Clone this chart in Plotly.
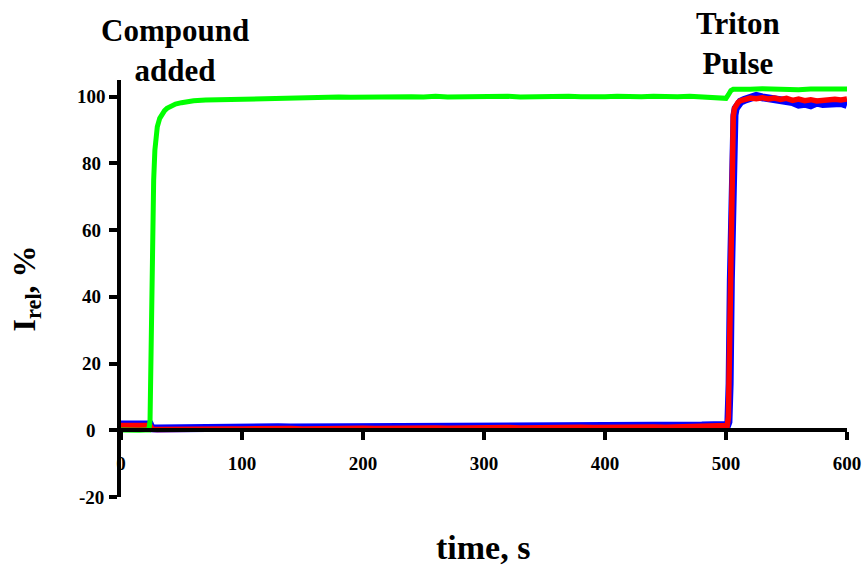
import plotly.graph_objects as go

# Time base (s) and relative intensity (%) for the two leakage traces
red_time = [0, 5, 10, 15, 20, 24, 25, 26, 30,
            40, 50, 60, 70, 80, 90, 100, 110, 120, 130, 140, 150, 160, 170, 180, 190,
            200, 210, 220, 230, 240, 250, 260, 270, 280, 290, 300, 310, 320, 330, 340,
            350, 360, 370, 380, 390, 400, 410, 420, 430, 440, 450, 460, 470, 480, 490,
            495, 500, 501, 502, 503, 504, 505, 506, 507, 508, 510, 512, 515, 518, 520,
            525, 530, 535, 540, 545, 550, 555, 560, 565, 570, 575, 580, 585, 590, 595, 600]

red_values = [1.4, 1.5, 1.4, 1.5, 1.4, 1.4, 0.6, 0.3, 0.2,
              0.3, 0.2, 0.3, 0.4, 0.3, 0.4, 0.4, 0.5, 0.4, 0.5, 0.5, 0.4, 0.5, 0.6, 0.5, 0.6,
              0.6, 0.5, 0.6, 0.7, 0.6, 0.7, 0.7, 0.6, 0.7, 0.8, 0.7, 0.8, 0.8, 0.7, 0.8,
              0.9, 0.8, 0.9, 0.9, 0.8, 0.9, 1.0, 0.9, 1.0, 1.0, 0.9, 1.0, 1.1, 1.0, 1.1,
              1.0, 1.1, 1.4, 4.0, 28.0, 62.0, 86.0, 94.0, 96.5, 97.5, 98.3, 98.8, 99.2, 99.5, 99.6,
              99.4, 99.7, 99.3, 99.6, 99.2, 99.5, 98.9, 99.3, 98.8, 99.1, 98.7, 99.0, 98.9, 99.2, 99.0, 99.3]

blue_values = [1.7, 1.8, 1.7, 1.8, 1.7, 1.7, 0.9, 0.6, 0.5,
               0.6, 0.5, 0.7, 0.7, 0.6, 0.8, 0.7, 0.8, 0.8, 0.9, 0.8, 0.8, 0.9, 0.9, 0.9, 1.0,
               0.9, 0.9, 1.0, 1.0, 1.0, 1.1, 1.0, 1.0, 1.1, 1.1, 1.1, 1.2, 1.1, 1.1, 1.2,
               1.2, 1.2, 1.3, 1.2, 1.2, 1.3, 1.3, 1.3, 1.4, 1.3, 1.3, 1.4, 1.4, 1.4, 1.5,
               1.4, 1.5, 1.5, 2.5, 14.0, 45.0, 76.0, 90.0, 94.5, 96.5, 97.8, 98.5, 99.0, 99.4, 99.8,
               100.2, 99.8, 99.5, 99.7, 99.0, 99.2, 98.4, 97.6, 97.9, 97.4, 98.2, 97.8, 98.0, 97.6, 98.1, 97.5]

# Compound-treated trace
green_time = [0, 5, 10, 15, 20, 23, 24, 25, 26, 27, 28, 29, 30, 32, 34, 36, 38, 40,
              45, 50, 55, 60, 70, 80, 90, 100, 110, 120, 130, 140, 150, 160, 170, 180, 190,
              200, 210, 220, 230, 240, 250, 260, 270, 280, 290, 300, 310, 320, 330, 340,
              350, 360, 370, 380, 390, 400, 410, 420, 430, 440, 450, 460, 470, 480, 490,
              495, 498, 500, 502, 504, 506, 510, 520, 530, 540, 550, 560, 570, 580, 590, 600]

green_values = [0.1, 0.0, 0.1, 0.0, 0.1, 0.1, 3.0, 30.0, 58.0, 75.0, 84.0, 88.5, 91.0, 93.5, 95.0, 95.8, 96.5, 97.0,
                97.8, 98.2, 98.5, 98.8, 99.0, 99.1, 99.3, 99.4, 99.5, 99.5, 99.7, 99.6, 99.8, 99.7, 99.8, 99.9, 99.8,
                99.9, 100.0, 99.8, 99.9, 100.0, 99.9, 100.1, 99.9, 100.0, 100.1, 99.9, 100.0, 100.1, 99.9, 100.0,
                100.0, 99.9, 100.1, 100.0, 99.9, 100.0, 100.1, 99.9, 100.0, 100.1, 99.9, 100.0, 100.1, 99.9, 100.0,
                99.8, 99.6, 99.5, 100.6, 101.8, 102.2, 102.3, 102.2, 102.4, 102.2, 102.3, 102.1, 102.3, 102.2, 102.4, 102.3]

x_ticks = [0, 100, 200, 300, 400, 500, 600]
y_ticks = [-20, 0, 20, 40, 60, 80, 100]

FONT = "Times New Roman, Liberation Serif, Times, serif"

fig = go.Figure()
fig.add_trace(go.Scatter(x=red_time, y=blue_values, mode="lines",
                         line=dict(color="#0000FF", width=8), hoverinfo="skip"))
fig.add_trace(go.Scatter(x=red_time, y=red_values, mode="lines",
                         line=dict(color="#FF0000", width=5.5), hoverinfo="skip"))
fig.add_trace(go.Scatter(x=green_time, y=green_values, mode="lines",
                         line=dict(color="#00FF00", width=5), hoverinfo="skip"))

y_min, y_max = -20, 105
tick_font = dict(family=FONT, size=19, color="black", weight="bold")

fig.update_layout(
    width=864, height=565,
    margin=dict(l=121, r=17, t=80, b=68),
    paper_bgcolor="white", plot_bgcolor="white",
    showlegend=False,
    font=dict(family=FONT, color="black"),
    xaxis=dict(
        range=[0, 600], anchor="free", position=(0 - y_min) / (y_max - y_min),
        automargin=False,
        showline=True, linecolor="black", linewidth=4,
        ticks="outside", ticklen=8, tickwidth=4, tickcolor="black",
        tickvals=x_ticks, ticktext=[str(v) for v in x_ticks],
        tickfont=tick_font,
        ticklabelstandoff=7,
        showgrid=False, zeroline=False,
    ),
    yaxis=dict(
        range=[y_min, y_max], automargin=False,
        showline=True, linecolor="black", linewidth=4,
        ticks="outside", ticklen=8, tickwidth=4, tickcolor="black",
        tickvals=y_ticks, showticklabels=False,
        showgrid=False, zeroline=False,
    ),
)

# y tick labels, centred in the column left of the tick marks
for v in y_ticks:
    fig.add_annotation(text=str(v), xref="paper", yref="y", x=-0.041, y=v,
                       xanchor="center", yanchor="middle", showarrow=False,
                       font=tick_font)

big = dict(family=FONT, size=31, color="black", weight="bold")
fig.add_annotation(text="Compound<br>added", xref="paper", yref="paper",
                   x=0.0744, y=1.07, xanchor="center", yanchor="middle",
                   showarrow=False, font=big)
fig.add_annotation(text="Triton<br>Pulse", xref="paper", yref="paper",
                   x=0.85, y=1.087, xanchor="center", yanchor="middle",
                   showarrow=False, font=big)
fig.add_annotation(text="time, s", xref="paper", yref="paper",
                   x=0.4986, y=-0.12, xanchor="center", yanchor="middle",
                   showarrow=False, font=dict(family=FONT, size=34, color="black", weight="bold"))
fig.add_annotation(text="I<sub>rel</sub>, %", xref="paper", yref="paper",
                   x=-0.13, y=0.499, xanchor="center", yanchor="middle", textangle=-90,
                   showarrow=False, font=dict(family=FONT, size=32, color="black", weight="bold"))

fig.write_html("out.html")
